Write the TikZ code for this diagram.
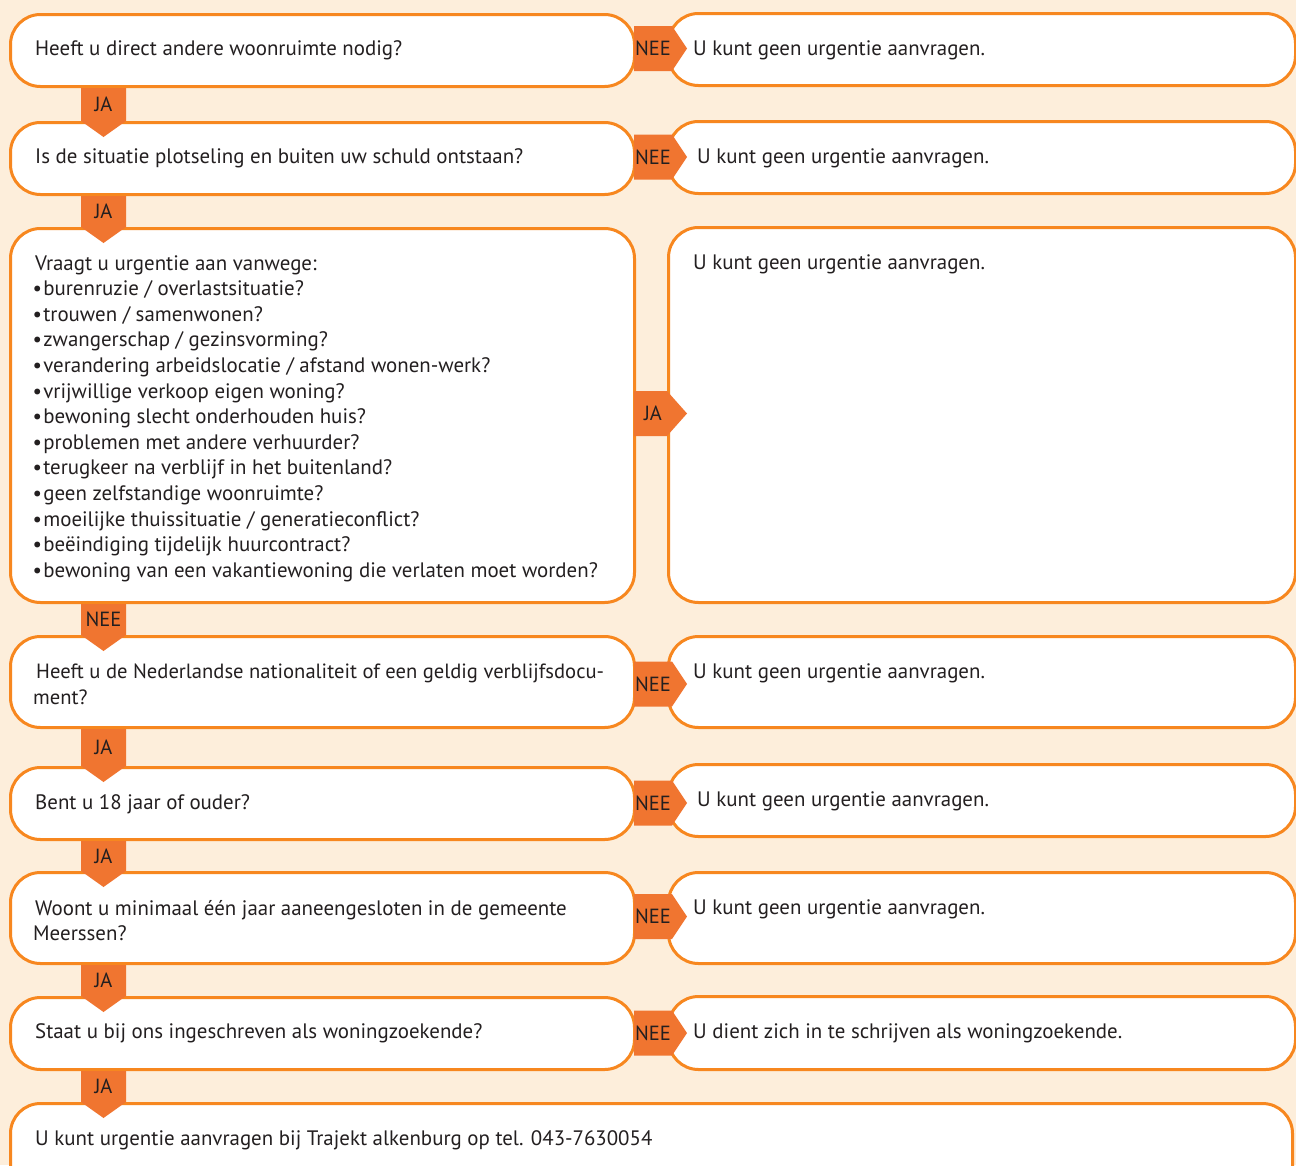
\documentclass[tikz,border=0pt]{standalone}
\usepackage{fontspec}
\setmainfont{PT Sans}
\usetikzlibrary{calc}
\definecolor{bg}{HTML}{FDEEDB}
\definecolor{bord}{HTML}{F7871F}
\definecolor{arrf}{HTML}{F07530}
\definecolor{txt}{HTML}{231F20}
\newcommand\bul{\kern-0.5pt•\kern1.2pt}
\tikzset{
  box/.style={draw=bord, line width=3pt, fill=white, rounded corners=30pt, rectangle, inner sep=0pt, anchor=north west},
  lbl/.style={text=txt, font=\fontsize{20.5}{25.6}\selectfont, inner sep=0pt},
  tx/.style={lbl, font=\fontsize{20.9}{25.6}\selectfont, anchor=west, align=left},
  arr/.style={fill=arrf, draw=none},
}
\newcommand\dnarr[3]{%
  \path (#1.south) coordinate (tmpa) (#2.north) coordinate (tmpb);
  \fill[arr] let \p1=(tmpa), \p2=(tmpb) in
    (81pt,\y1) -- (126pt,\y1) -- (126pt,\y2) -- (103.5pt,\y2-16pt) -- (81pt,\y2) -- cycle;
  \path let \p1=(tmpa), \p2=(tmpb) in node[lbl] (#1lbl) at (103.5pt,{(\y1+\y2)/2}) {#3};
}
\newcommand\rarr[5]{% from, to, y, label, rect end x
  \fill[arr] (634,#3-22.5) -- (#5,#3-22.5) -- (687,#3) -- (#5,#3+22.5) -- (634,#3+22.5) -- cycle;
  \node[lbl] (#1r) at (653,#3) {#4};
}
\begin{document}
\begin{tikzpicture}[x=1pt,y=-1pt]
\useasboundingbox (0,0) rectangle (1296,1165);
\clip (0,0) rectangle (1296,1165);
\fill[bg] (0,0) rectangle (1296,1165);
% left boxes
\node[box, minimum width=624pt, minimum height=72pt] (q1) at (9,13) {};
\node[box, minimum width=624pt, minimum height=72pt] (q2) at (9,121) {};
\node[box, minimum width=624pt, minimum height=374pt] (q3) at (9,227) {};
\node[box, minimum width=624pt, minimum height=91pt] (q4) at (9,635) {};
\node[box, minimum width=624pt, minimum height=72pt] (q5) at (9,766) {};
\node[box, minimum width=624pt, minimum height=91pt] (q6) at (9,871) {};
\node[box, minimum width=624pt, minimum height=72pt] (q7) at (9,996) {};
\node[box, minimum width=1282pt, minimum height=110pt] (q8) at (9,1102) {};
% right boxes
\node[box, minimum width=627pt, minimum height=72pt] (a1) at (667,12) {};
\node[box, minimum width=627pt, minimum height=72pt] (a2) at (667,120) {};
\node[box, minimum width=627pt, minimum height=375pt] (a3) at (667,226) {};
\node[box, minimum width=627pt, minimum height=91pt] (a4) at (667,635) {};
\node[box, minimum width=627pt, minimum height=72pt] (a5) at (667,763) {};
\node[box, minimum width=627pt, minimum height=91pt] (a6) at (667,871) {};
\node[box, minimum width=627pt, minimum height=73pt] (a7) at (667,995) {};
% left texts
\node[tx] (t1) at (35,50) {Heeft u direct andere woonruimte nodig?};
\node[tx] (t2) at (35,158) {Is de situatie plotseling en buiten uw schuld ontstaan?};
\node[tx, anchor=north west] (t3) at (33,255) {\hspace*{2pt}Vraagt u urgentie aan vanwege:\\
\bul burenruzie / overlastsituatie?\\
\bul trouwen / samenwonen?\\
\bul zwangerschap / gezinsvorming?\\
\bul verandering arbeidslocatie / afstand wonen-werk?\\
\bul vrijwillige verkoop eigen woning?\\
\bul bewoning slecht onderhouden huis?\\
\bul problemen met andere verhuurder?\\
\bul terugkeer na verblijf in het buitenland?\\
\bul geen zelfstandige woonruimte?\\
\bul moeilijke thuissituatie / generatieconflict?\\
\bul beëindiging tijdelijk huurcontract?\\
\bul bewoning van een vakantiewoning die verlaten moet worden?};
\node[tx, font=\fontsize{20.6}{25.6}\selectfont] (t4) at (33,684.5) {\hspace*{3pt}Heeft u de Nederlandse nationaliteit of een geldig verblijfsdocu-\\ment?};
\node[tx] (t5) at (35,804) {Bent u 18 jaar of ouder?};
\node[tx] (t6) at (33,920.5) {\hspace*{2pt}Woont u minimaal één jaar aaneengesloten in de gemeente\\Meerssen?};
\node[tx] (t7) at (35,1033) {Staat u bij ons ingeschreven als woningzoekende?};
\node[tx] (t8) at (35,1140) {U kunt urgentie aanvragen bij Trajekt alkenburg op tel. 043-7630054};
% right texts
\node[tx] (r1) at (693,50) {U kunt geen urgentie aanvragen.};
\node[tx] (r2) at (697,158) {U kunt geen urgentie aanvragen.};
\node[tx] (r3) at (693,264) {U kunt geen urgentie aanvragen.};
\node[tx] (r4) at (693,673) {U kunt geen urgentie aanvragen.};
\node[tx] (r5) at (697,801) {U kunt geen urgentie aanvragen.};
\node[tx] (r6) at (693,909) {U kunt geen urgentie aanvragen.};
\node[tx] (r7) at (693,1033) {U dient zich in te schrijven als woningzoekende.};
% down arrows
\dnarr{q1}{q2}{JA}
\dnarr{q2}{q3}{JA}
\dnarr{q3}{q4}{NEE}
\dnarr{q4}{q5}{JA}
\dnarr{q5}{q6}{JA}
\dnarr{q6}{q7}{JA}
\dnarr{q7}{q8}{JA}
% right arrows
\rarr{q1}{a1}{48.5}{NEE}{672}
\rarr{q2}{a2}{157}{NEE}{672}
\rarr{q3}{a3}{413.5}{JA}{667}
\rarr{q4}{a4}{684}{NEE}{672}
\rarr{q5}{a5}{803}{NEE}{672}
\rarr{q6}{a6}{916.5}{NEE}{672}
\rarr{q7}{a7}{1033}{NEE}{672}
\end{tikzpicture}
\end{document}
